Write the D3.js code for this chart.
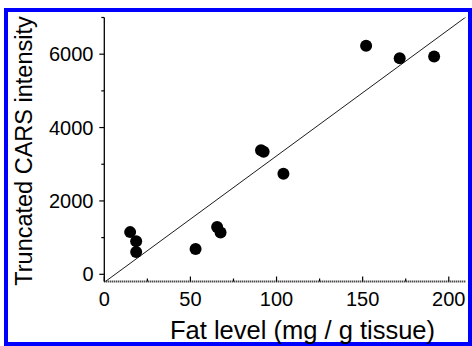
<!DOCTYPE html>
<html lang="en">
<meta charset="utf-8">
<title>Truncated CARS intensity vs fat level</title>
<style>
  body { margin: 0; background: #fff; }
  svg { display: block; font-family: "Liberation Sans", Arial, sans-serif; }
</style>
<body>
<div id="chart"></div>
<script src="https://cdn.jsdelivr.net/npm/d3@7"></script>
<script>
// Data
var fatLevel = [15, 18.5, 18.5, 53, 65.5, 67.5, 91, 92.5, 104, 152, 171.5, 191.5];
var carsIntensity = [1150, 900, 610, 690, 1290, 1140, 3380, 3340, 2740, 6230, 5890, 5940];
var xTicks = [0, 50, 100, 150, 200];
var xMinorTicks = [25, 75, 125, 175];
var yTicks = [0, 2000, 4000, 6000];
var yMinorTicks = [1000, 3000, 5000];
var fitLine = { slope: 34.45, intercept: -218 };

var W = 472, H = 346;
// plot box edges (note: "top" is taken by window.top, so use other names)
var plotL = 104.3, plotR = 466, plotT = 17.5, plotB = 281.5;

var svg = d3.select("#chart").append("svg").attr("width", W).attr("height", H);

// blue frame round the whole figure
svg.append("rect").attr("x", 6).attr("y", 10).attr("width", 464).attr("height", 334)
  .attr("fill", "none").attr("stroke", "#0000ff").attr("stroke-width", 4);

var x = d3.scaleLinear().domain([0, 210]).range([plotL, plotR]);
var y = d3.scaleLinear().domain([-196, 7000]).range([plotB, plotT]);

// x axis: dotted base line, ticks pointing up
var xAxis = svg.append("g").attr("transform", "translate(0," + plotB + ")");
xAxis.append("line").attr("x1", plotL).attr("x2", plotR)
  .attr("stroke", "#000").attr("stroke-width", 2).attr("stroke-dasharray", "1,1");
xAxis.selectAll(".maj").data(xTicks).enter().append("line")
  .attr("x1", d => x(d)).attr("x2", d => x(d)).attr("y1", 0).attr("y2", -5)
  .attr("stroke", "#000").attr("stroke-width", 1.2);
xAxis.selectAll(".min").data(xMinorTicks).enter().append("line")
  .attr("x1", d => x(d)).attr("x2", d => x(d)).attr("y1", 0).attr("y2", -3)
  .attr("stroke", "#000").attr("stroke-width", 1.2);
xAxis.selectAll("text").data(xTicks).enter().append("text")
  .attr("x", d => x(d)).attr("y", 24.5).attr("text-anchor", "middle")
  .attr("font-size", 20).text(d => d);

// y axis
var yAxis = svg.append("g");
yAxis.append("line").attr("x1", plotL).attr("x2", plotL).attr("y1", plotT).attr("y2", plotB)
  .attr("stroke", "#000").attr("stroke-width", 1.3);
yAxis.append("line").attr("x1", plotL - 3).attr("x2", plotL).attr("y1", plotT).attr("y2", plotT)
  .attr("stroke", "#000").attr("stroke-width", 1.2);
yAxis.selectAll(".maj").data(yTicks).enter().append("line")
  .attr("x1", plotL - 5).attr("x2", plotL).attr("y1", d => y(d)).attr("y2", d => y(d))
  .attr("stroke", "#000").attr("stroke-width", 1.2);
yAxis.selectAll(".min").data(yMinorTicks).enter().append("line")
  .attr("x1", plotL - 3).attr("x2", plotL).attr("y1", d => y(d)).attr("y2", d => y(d))
  .attr("stroke", "#000").attr("stroke-width", 1.2);
yAxis.selectAll("text").data(yTicks).enter().append("text")
  .attr("x", 93.5).attr("y", d => y(d) + 7).attr("text-anchor", "end")
  .attr("font-size", 20).text(d => d);

// fitted line, clipped to the plot area
svg.append("clipPath").attr("id", "plotClip").append("rect")
  .attr("x", plotL).attr("y", plotT).attr("width", plotR - plotL).attr("height", plotB - plotT);
var fx = x.domain();
svg.append("line").attr("clip-path", "url(#plotClip)")
  .attr("x1", x(fx[0])).attr("y1", y(fitLine.slope * fx[0] + fitLine.intercept))
  .attr("x2", x(fx[1])).attr("y2", y(fitLine.slope * fx[1] + fitLine.intercept))
  .attr("stroke", "#000").attr("stroke-width", 0.9);

// points
svg.selectAll("circle").data(fatLevel).enter().append("circle")
  .attr("cx", d => x(d)).attr("cy", (d, i) => y(carsIntensity[i])).attr("r", 6)
  .attr("fill", "#000");

// axis titles
svg.append("text").attr("x", 170).attr("y", 339).attr("font-size", 25.5)
  .text("Fat level (mg / g tissue)");
svg.append("text").attr("transform", "translate(32,151) rotate(-90)")
  .attr("text-anchor", "middle").attr("font-size", 23.5)
  .text("Truncated CARS intensity");
</script>
</body>
</html>
